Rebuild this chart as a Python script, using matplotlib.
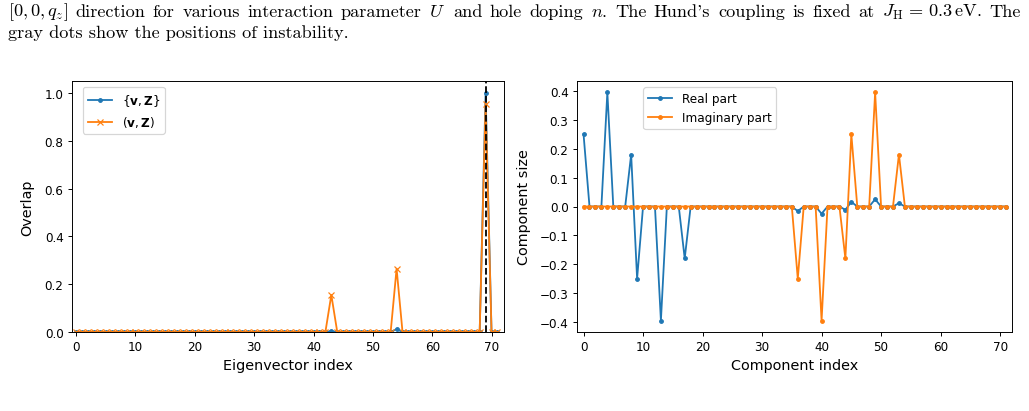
import matplotlib
matplotlib.use("Agg")
import matplotlib.pyplot as plt
import numpy as np

# ---- data ----
eig_index = list(range(72))
overlap_curly = [0]*10 + [0]*10 + [0]*10 + [0]*10 + \
    [0, 0, 0, 0.004, 0, 0, 0, 0, 0, 0] + \
    [0, 0, 0, 0, 0.012, 0, 0, 0, 0, 0] + \
    [0, 0, 0, 0, 0, 0, 0, 0, 0, 1.0] + \
    [0, 0]
overlap_round = [0]*10 + [0]*10 + [0]*10 + [0]*10 + \
    [0, 0, 0, 0.155, 0, 0, 0, 0, 0, 0] + \
    [0, 0, 0, 0, 0.265, 0, 0, 0, 0, 0] + \
    [0, 0, 0, 0, 0, 0, 0, 0, 0, 0.953] + \
    [0, 0]
instability_index = 69

comp_index = list(range(72))
real_part = [0.25, 0, 0, 0, 0.395, 0, 0, 0, 0.18, -0.25] + \
    [0, 0, 0, -0.395, 0, 0, 0, -0.18, 0, 0] + \
    [0]*10 + \
    [0, 0, 0, 0, 0, 0, -0.016, 0, 0, 0] + \
    [-0.025, 0, 0, 0, -0.0115, 0.016, 0, 0, 0, 0.025] + \
    [0, 0, 0, 0.0115, 0, 0, 0, 0, 0, 0] + \
    [0]*10 + [0, 0]
imag_part = [0]*10 + [0]*10 + [0]*10 + \
    [0, 0, 0, 0, 0, 0, -0.25, 0, 0, 0] + \
    [-0.395, 0, 0, 0, -0.18, 0.25, 0, 0, 0, 0.395] + \
    [0, 0, 0, 0.18, 0, 0, 0, 0, 0, 0] + \
    [0]*10 + [0, 0]

caption_1_words = [r"$[0,0,q_z]$", "direction", "for", "various", "interaction",
                   "parameter", "$U$", "and", "hole", "doping", "$n$.", "The",
                   "Hund's", "coupling", "is", "fixed", "at",
                   r"$J_{\rm H}\,=\,0.3\,$eV.", "The"]
caption_2 = "gray dots show the positions of instability."

DPI = 86.6
W, H = 1029, 412
fig = plt.figure(figsize=(W/DPI, H/DPI), dpi=DPI)

# caption (part of the page), first line justified
cap_kw = dict(fontfamily='cmr10', math_fontfamily='cm', fontsize=15.2,
              ha='left', va='center')
renderer = fig.canvas.get_renderer()
left_px, right_px = 8, 1021
word_texts = [fig.text(0, 1 - 12/H, w, **cap_kw) for w in caption_1_words]
widths = [t.get_window_extent(renderer).width for t in word_texts]
gap = (right_px - left_px - sum(widths)) / (len(widths) - 1)
x = left_px
for t, w in zip(word_texts, widths):
    t.set_x(x / W)
    x += w + gap
fig.text(8/W, 1 - 33/H, caption_2, **cap_kw)

ax1 = fig.add_axes([72/W, (H-333)/H, (504-72)/W, (333-82)/H])
ax2 = fig.add_axes([577/W, (H-333)/H, (1012-577)/W, (333-82)/H])

ax1.plot(eig_index, overlap_curly, marker='.', color='C0',
         label=r'$\{\mathbf{v}, \mathbf{Z}\}$')
ax1.plot(eig_index, overlap_round, marker='x', markersize=5, color='C1',
         label=r'$(\mathbf{v}, \mathbf{Z})$')
ax1.axvline(instability_index, color='k', linestyle='--', zorder=5)
ax1.set_xlim(-0.7, 72.1)
ax1.set_ylim(0, 1.05)
ax1.set_xlabel('Eigenvector index', fontsize=12)
ax1.set_ylabel('Overlap', fontsize=12, labelpad=9)
ax1.legend(loc='upper left', bbox_to_anchor=(0.0255, 0.976), borderaxespad=0)

ax2.plot(comp_index, real_part, marker='.', color='C0', label='Real part')
ax2.plot(comp_index, imag_part, marker='.', color='C1', label='Imaginary part')
ax2.set_xlim(-1.1, 72.0)
ax2.set_xlabel('Component index', fontsize=12)
ax2.set_ylabel('Component size', fontsize=12, labelpad=7)
ax2.legend(loc='upper left', bbox_to_anchor=(0.152, 0.975), borderaxespad=0)

fig.savefig('out.png', dpi=DPI)
